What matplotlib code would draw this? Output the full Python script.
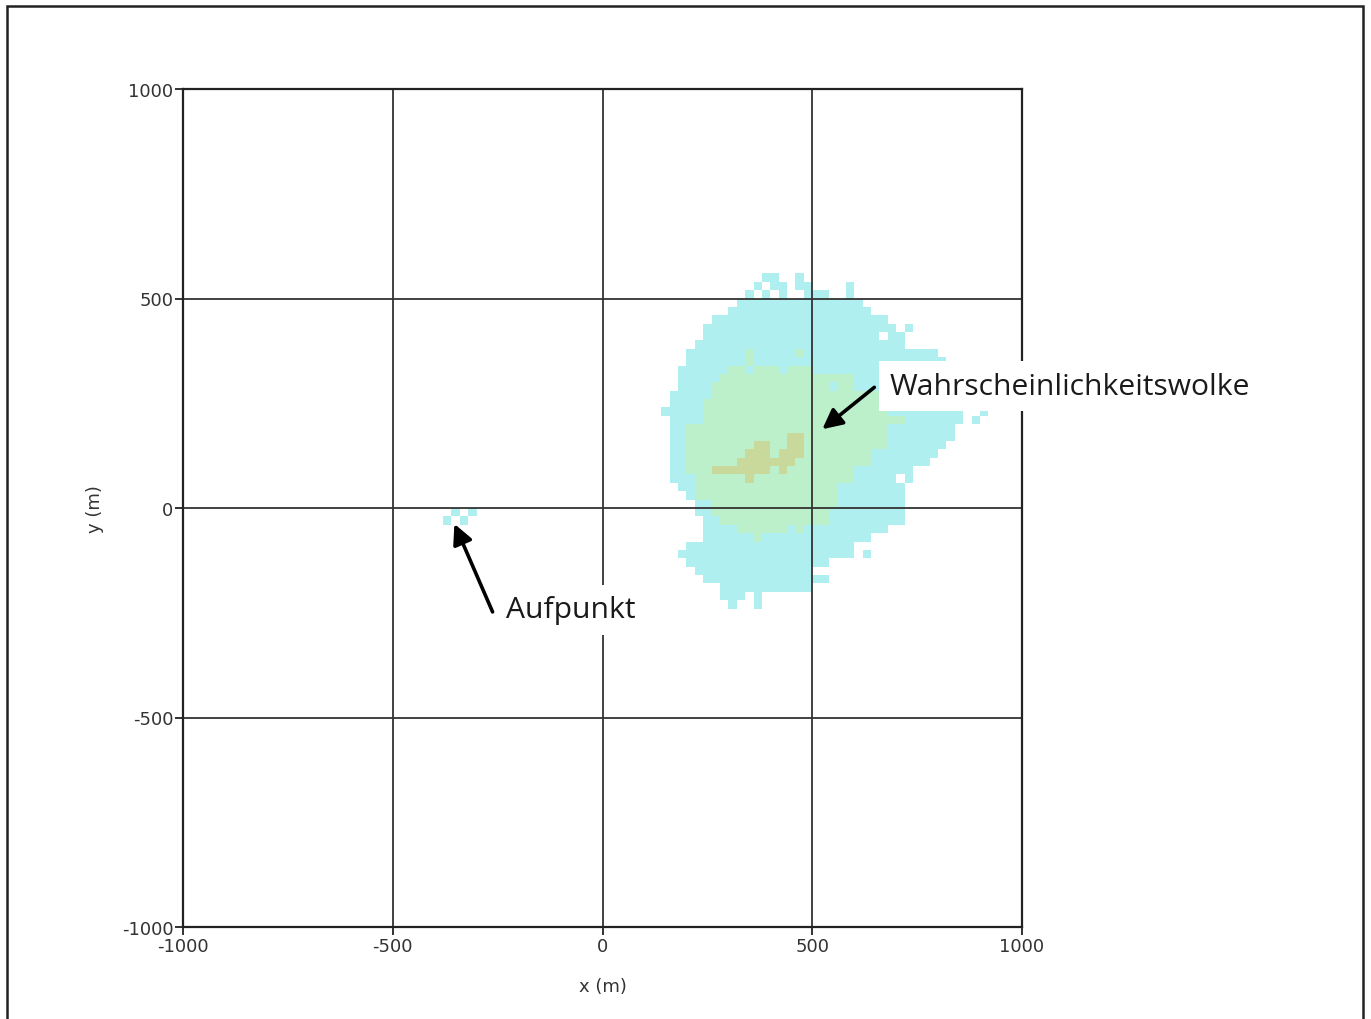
import numpy as np
import matplotlib
matplotlib.use('Agg')
import matplotlib.pyplot as plt
from matplotlib.colors import ListedColormap
from matplotlib.patches import Rectangle

plt.rcParams['axes.unicode_minus'] = False

# cell size of the probability grid (m)
cell = 20
ticks = [-1000, -500, 0, 500, 1000]

# row bottom y (m) -> list of (x_left, x_right) spans, level 1 = outer cloud
cyan_rows = {
    540: [(380, 420), (460, 480)],
    520: [(360, 380), (400, 440), (460, 500), (580, 600)],
    500: [(340, 360), (380, 400), (420, 440), (480, 540), (580, 600)],
    480: [(320, 620)],
    460: [(300, 640)],
    440: [(260, 680)],
    420: [(240, 700), (720, 740)],
    400: [(240, 720)],
    380: [(220, 720)],
    360: [(200, 800)],
    340: [(200, 820)],
    320: [(180, 860)],
    300: [(180, 860)],
    280: [(180, 860)],
    260: [(160, 860)],
    240: [(160, 860)],
    220: [(140, 860), (900, 920)],
    200: [(160, 860), (880, 900)],
    180: [(160, 840)],
    160: [(160, 840)],
    140: [(160, 820)],
    120: [(160, 800)],
    100: [(160, 780)],
    80: [(160, 740)],
    60: [(160, 740)],
    40: [(180, 720)],
    20: [(200, 720)],
    0: [(220, 720)],
    -20: [(220, 720), (-360, -340), (-320, -300)],
    -40: [(240, 720), (-380, -360), (-340, -320)],
    -60: [(240, 680)],
    -80: [(240, 640)],
    -100: [(200, 600)],
    -120: [(180, 600), (620, 640)],
    -140: [(200, 540)],
    -160: [(220, 500)],
    -180: [(240, 540)],
    -200: [(280, 500)],
    -220: [(280, 340), (360, 380)],
    -240: [(300, 320), (360, 380)],
}
cyan_holes = [(660, 400), (700, 60)]

# level 2 = middle cloud
green_rows = {
    360: [(340, 360), (460, 480)],
    340: [(340, 360)],
    320: [(300, 500)],
    300: [(280, 600)],
    280: [(260, 600)],
    260: [(260, 660)],
    240: [(240, 660)],
    220: [(240, 680)],
    200: [(240, 720)],
    180: [(200, 680)],
    160: [(200, 680)],
    140: [(200, 680)],
    120: [(200, 640)],
    100: [(200, 640)],
    80: [(200, 600)],
    60: [(220, 600)],
    40: [(220, 560)],
    20: [(220, 560)],
    0: [(260, 560)],
    -20: [(260, 540)],
    -40: [(280, 540)],
    -60: [(320, 440), (460, 480)],
    -80: [(360, 380)],
}
green_holes = [(340, 320), (420, 320), (540, 280)]

# level 3 = core
olive_rows = {
    160: [(440, 480)],
    140: [(360, 400), (440, 480)],
    120: [(340, 400), (420, 480)],
    100: [(320, 460)],
    80: [(260, 400), (420, 440)],
    60: [(340, 360)],
}

edges = np.arange(-1000, 1000 + cell, cell)
level = np.zeros((len(edges) - 1, len(edges) - 1))


def col(x):
    return (x + 1000) // cell


def fill(rows, val):
    for yb, spans in rows.items():
        for xl, xr in spans:
            level[col(yb), col(xl):col(xr)] = val


fill(cyan_rows, 1)
for x, y in cyan_holes:
    level[col(y), col(x)] = 0
fill(green_rows, 2)
for x, y in green_holes:
    level[col(y), col(x)] = 1
fill(olive_rows, 3)

fig = plt.figure(figsize=(13.71, 10.20), dpi=100)
ax = fig.add_axes([183 / 1371, 92 / 1020, 839 / 1371, 838 / 1020])

cmap = ListedColormap(['#b0efef', '#bbf0ca', '#c9d99c'])
ax.pcolormesh(edges, edges, np.ma.masked_equal(level, 0), cmap=cmap,
              vmin=0.5, vmax=3.5, zorder=1)

ax.set_xlim(-1000, 1000)
ax.set_ylim(-1000, 1000)
ax.set_xticks(ticks)
ax.set_yticks(ticks)
ax.grid(True, color='#333333', lw=1.3)
for s in ax.spines.values():
    s.set_linewidth(1.6)
    s.set_color('#222222')
ax.tick_params(length=6, width=1.3, color='#222222', labelsize=13,
               labelcolor='#333333', pad=1)
ax.set_xlabel('x (m)', fontsize=13, color='#333333', labelpad=16)
ax.set_ylabel('y (m)', fontsize=13, color='#333333', labelpad=13)

box = dict(facecolor='white', edgecolor='none', boxstyle='square,pad=0.35')
arrow = dict(arrowstyle='-|>', color='black', lw=2.6, mutation_scale=30,
             shrinkA=0, shrinkB=0)
ax.annotate('', xy=(524, 188), xytext=(648, 288), arrowprops=arrow)
ax.text(684, 291, 'Wahrscheinlichkeitswolke', fontsize=21.6, family='Open Sans',
        color='#1a1a1a', va='center', ha='left', bbox=box, zorder=5)
ax.annotate('', xy=(-353, -38), xytext=(-262, -248), arrowprops=arrow)
ax.text(-229, -243, 'Aufpunkt', fontsize=21.6, family='Open Sans',
        color='#1a1a1a', va='center', ha='left', bbox=box, zorder=5)

# frame around the whole picture (open at the bottom edge)
fig.add_artist(Rectangle((7 / 1371, -0.05), 1356 / 1371, 1.05 - 7 / 1020,
                         transform=fig.transFigure, fill=False,
                         lw=1.8, edgecolor='#222222'))

fig.savefig('out.png', dpi=100)
